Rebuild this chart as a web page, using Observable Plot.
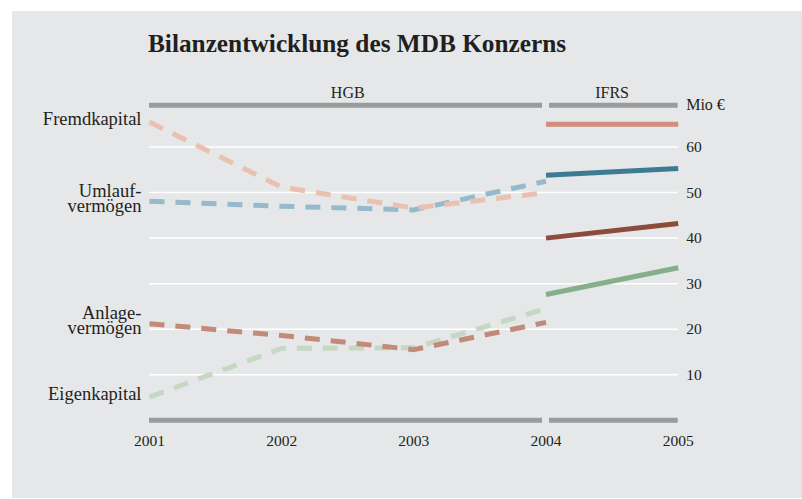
<!DOCTYPE html>
<html>
<head>
<meta charset="utf-8">
<script src="https://cdn.jsdelivr.net/npm/d3@7"></script>
<script src="https://cdn.jsdelivr.net/npm/@observablehq/plot@0.6"></script>
<style>
  html, body { margin: 0; padding: 0; background: #ffffff; }
  #page { position: relative; width: 802px; height: 499px; overflow: hidden; }
  #bg { position: absolute; left: 12px; top: 11px; right: 0; bottom: 1px; background: #e6e7e8; }
  #title { position: absolute; left: 148px; top: 31px; font-family: "Liberation Serif", "Times New Roman", serif; font-weight: bold; font-size: 25.3px; line-height: 25px; color: #231f20; white-space: nowrap; }
  #chart { position: absolute; left: 0; top: 0; }
</style>
</head>
<body>
<div id="page">
  <div id="bg"></div>
  <div id="title">Bilanzentwicklung des MDB Konzerns</div>
  <div id="chart"></div>
</div>
<script>
// ---- data ----
const years = [2001, 2002, 2003, 2004, 2005];
const hgbYears = [2001, 2002, 2003, 2004];
const ifrsYears = [2004, 2005];
const fremdHGB  = [65.5, 51.2, 46.6, 50.0];
const umlaufHGB = [48.1, 47.0, 46.2, 52.5];
const anlageHGB = [21.2, 18.6, 15.5, 21.5];
const eigenHGB  = [5.1, 15.8, 15.9, 24.5];
const fremdIFRS  = [65.0, 65.0];
const umlaufIFRS = [53.8, 55.3];
const anlageIFRS = [40.0, 43.2];
const eigenIFRS  = [27.6, 33.5];
const yTicks = [10, 20, 30, 40, 50, 60];
const seriesNames = ["Fremdkapital", "Umlauf-\nvermögen", "Anlage-\nvermögen", "Eigenkapital"];
const unitLabel = "Mio €";
const periodLabels = ["HGB", "IFRS"];
const yTop = 69.2;

// ---- build tables ----
const toRows = (xs, vs) => xs.map((x, i) => ({x, y: vs[i]}));
const dashedCol = ["#e9c1b1", "#95bacb", "#c38a7a", "#c4d8c3"];
const solidCol  = ["#d38c7d", "#3c7b94", "#8d4b3c", "#84af8a"];
const hgbSeries = [fremdHGB, umlaufHGB, anlageHGB, eigenHGB];
const ifrsSeries = [fremdIFRS, umlaufIFRS, anlageIFRS, eigenIFRS];
const labels = seriesNames.map((name, i) => ({x: 2001, y: hgbSeries[i][0], name}));

const font = '"Liberation Serif", "Times New Roman", serif';
const drawOrder = [3, 2, 1, 0];

const marks = [
  Plot.ruleY(yTicks, {x1: 2001, x2: 2005, stroke: "#ffffff", strokeWidth: 1.5}),
  Plot.ruleY([yTop, 0], {x1: 2001, x2: 2004, insetRight: 3.5, stroke: "#9a9b9d", strokeWidth: 5}),
  Plot.ruleY([yTop, 0], {x1: 2004, x2: 2005, insetLeft: 3.5, stroke: "#9a9b9d", strokeWidth: 5}),
  Plot.text([{x: (2001 + 2004) / 2, t: periodLabels[0]}, {x: (2004 + 2005) / 2, t: periodLabels[1]}],
    {x: "x", y: () => yTop, text: "t", dy: -12, fontSize: 16, fill: "#231f20"}),
  Plot.text([unitLabel], {x: () => 2005, y: () => yTop, text: d => d, dx: 8, textAnchor: "start", fontSize: 16, fill: "#231f20"}),
];
for (const i of drawOrder) {
  marks.push(Plot.line(toRows(hgbYears, hgbSeries[i]), {x: "x", y: "y", stroke: dashedCol[i], strokeWidth: 5, strokeDasharray: "15,11", strokeLinecap: "butt", strokeLinejoin: "round"}));
}
for (const i of drawOrder) {
  marks.push(Plot.line(toRows(ifrsYears, ifrsSeries[i]), {x: "x", y: "y", stroke: solidCol[i], strokeWidth: 5, strokeLinecap: "butt"}));
}
marks.push(Plot.text(labels, {x: "x", y: "y", text: "name", dx: -8, dy: -2, textAnchor: "end", lineAnchor: "middle", lineHeight: 0.82, fontSize: 18.5, fill: "#231f20"}));
marks.push(Plot.axisY(yTicks, {anchor: "right", label: null, tickSize: 0, tickPadding: 8, fontSize: 15.5, fill: "#231f20"}));
marks.push(Plot.axisX(years, {anchor: "bottom", label: null, tickSize: 0, tickPadding: 15, tickFormat: d => String(d), fontSize: 15.5, fill: "#231f20"}));

const chart = Plot.plot({
  width: 802,
  height: 499,
  marginLeft: 149,
  marginRight: 124.3,
  marginTop: 104.7,
  marginBottom: 79.3,
  x: {domain: [2001, 2005], label: null},
  y: {domain: [0, yTop], label: null},
  style: {background: "transparent", fontFamily: font, color: "#231f20"},
  marks
});
document.getElementById("chart").appendChild(chart);
</script>
</body>
</html>
